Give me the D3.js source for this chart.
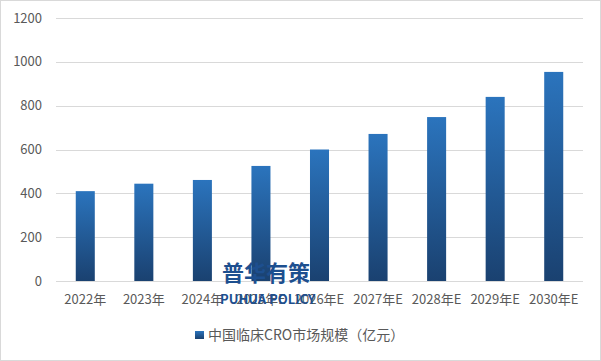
<!DOCTYPE html>
<html>
<head>
<meta charset="utf-8">
<script src="https://cdn.jsdelivr.net/npm/d3@7"></script>
<style>
  body { margin: 0; background: #fff; }
  text { font-family: "Microsoft YaHei", "Noto Sans CJK SC", sans-serif; }
</style>
</head>
<body>
<svg id="chart" width="601" height="361"></svg>
<script>
const years = ["2022年", "2023年", "2024年", "2025年E", "2026年E", "2027年E", "2028年E", "2029年E", "2030年E"];
const values = [410, 444, 461, 525, 600, 671, 748, 840, 954];
const yTicks = [0, 200, 400, 600, 800, 1000, 1200];
const seriesName = "中国临床CRO市场规模（亿元）";

const svg = d3.select("#chart");
const W = 601, H = 361;
const plotLeft = 56, plotRight = 583, plotTop = 18, plotBottom = 281;

svg.append("rect")
  .attr("x", 0.5).attr("y", 0.5)
  .attr("width", W - 1).attr("height", H - 1)
  .attr("fill", "#fff").attr("stroke", "#d9d9d9");

const defs = svg.append("defs");
const grad = defs.append("linearGradient")
  .attr("id", "barGrad")
  .attr("x1", 0).attr("y1", 0).attr("x2", 0).attr("y2", 1);
grad.append("stop").attr("offset", "0%").attr("stop-color", "#2b74bd");
grad.append("stop").attr("offset", "100%").attr("stop-color", "#1a4170");

const x = d3.scaleBand().domain(years).range([plotLeft, plotRight]).paddingInner(0.675).paddingOuter(0.3375);
const y = d3.scaleLinear().domain([0, 1200]).range([plotBottom, plotTop]);

// Grid
svg.append("g")
  .selectAll("line")
  .data(yTicks)
  .enter()
  .append("line")
  .attr("x1", plotLeft).attr("x2", plotRight)
  .attr("y1", d => Math.round(y(d)) + 0.5)
  .attr("y2", d => Math.round(y(d)) + 0.5)
  .attr("stroke", "#d9d9d9");

// Y labels
svg.append("g")
  .selectAll("text")
  .data(yTicks)
  .enter()
  .append("text")
  .attr("x", 42)
  .attr("y", d => y(d) + 4.5)
  .attr("text-anchor", "end")
  .attr("font-size", 13)
  .attr("fill", "#595959")
  .text(d => d);

// Bars
svg.append("g")
  .selectAll("rect")
  .data(values)
  .enter()
  .append("rect")
  .attr("x", (d, i) => x(years[i]))
  .attr("y", d => y(d))
  .attr("width", x.bandwidth())
  .attr("height", d => plotBottom - y(d))
  .attr("fill", "url(#barGrad)");

// X labels
svg.append("g")
  .selectAll("text")
  .data(years)
  .enter()
  .append("text")
  .attr("x", d => x(d) + x.bandwidth() / 2)
  .attr("y", 304)
  .attr("text-anchor", "middle")
  .attr("font-size", 13)
  .attr("fill", "#595959")
  .text(d => d);

// Watermark
svg.append("text")
  .attr("x", 222).attr("y", 281)
  .attr("font-size", 22).attr("font-weight", "bold")
  .attr("fill", "#1d4f8f")
  .text("普华有策");
svg.append("text")
  .attr("x", 220).attr("y", 304)
  .attr("font-size", 13).attr("font-weight", "bold")
  .attr("fill", "#1d4f8f")
  .text("PUHUA POLICY");

// Legend
svg.append("rect")
  .attr("x", 195).attr("y", 331)
  .attr("width", 9).attr("height", 8)
  .attr("fill", "url(#barGrad)");
svg.append("text")
  .attr("x", 208).attr("y", 340)
  .attr("font-size", 14)
  .attr("fill", "#595959")
  .text(seriesName);
</script>
</body>
</html>
